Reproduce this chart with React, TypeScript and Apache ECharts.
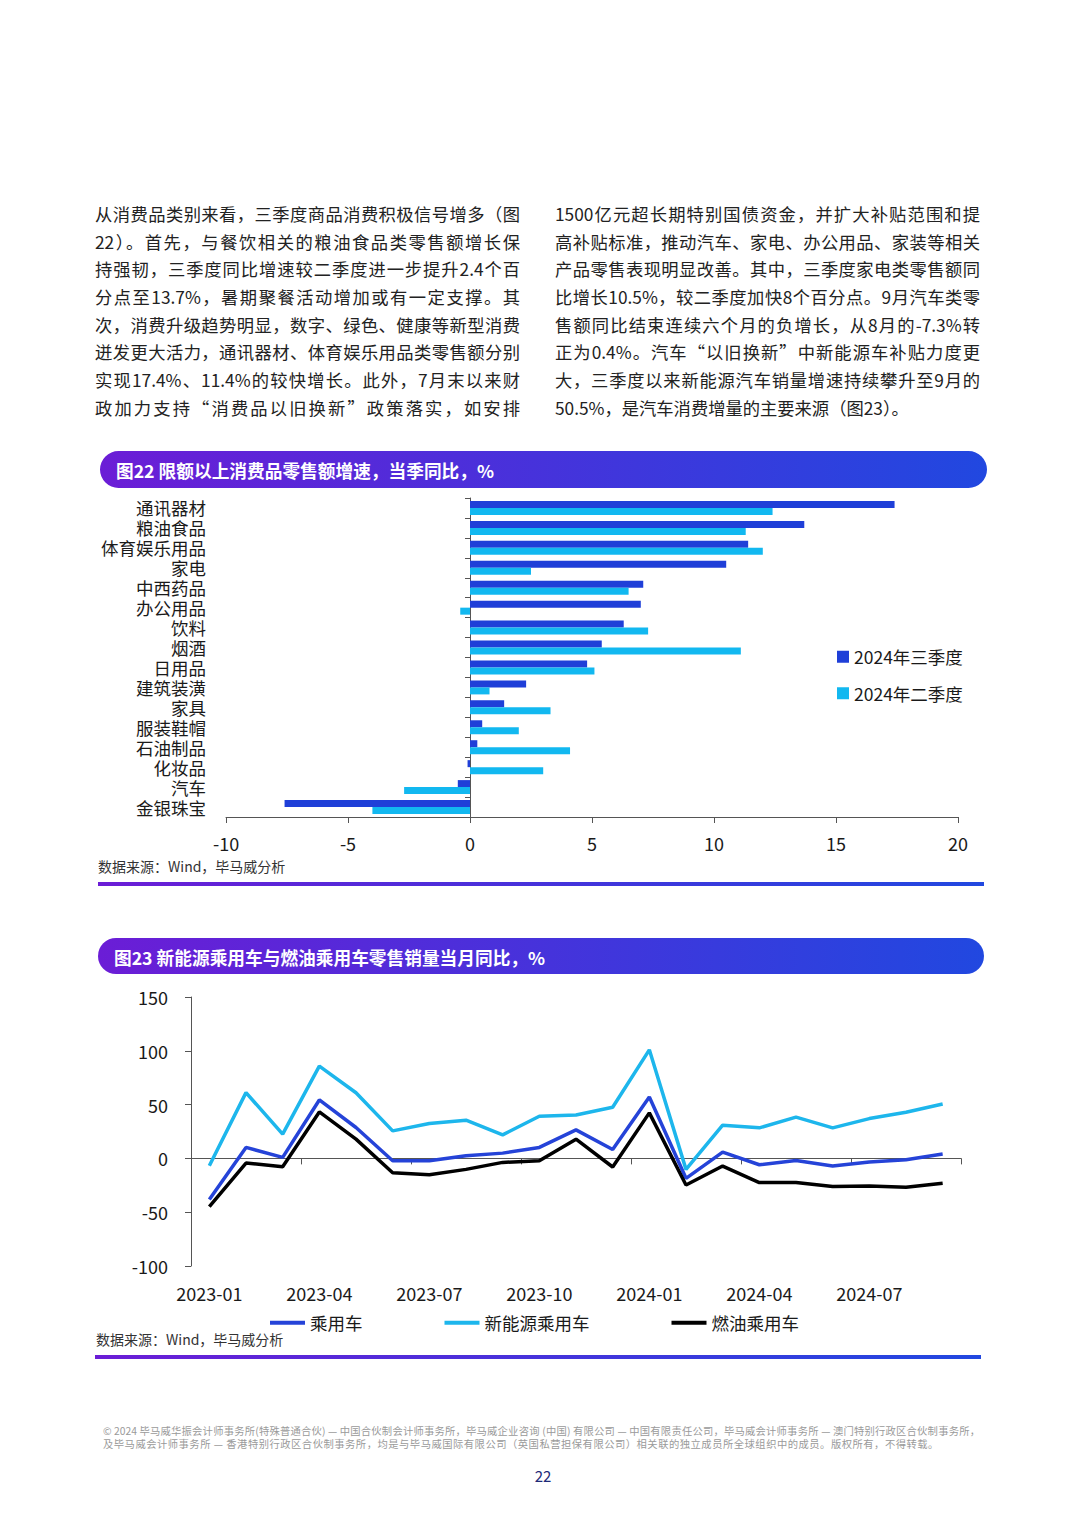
import React, { useEffect, useRef } from "react";
import * as echarts from "echarts";

const FONT = '"Noto Sans CJK SC", "Noto Sans", sans-serif';
const TEXT = "#1a1a1a";
const AXIS = "#555555";

// ---------- Figure 22 data ----------
const barCategories = [
  "通讯器材", "粮油食品", "体育娱乐用品", "家电", "中西药品", "办公用品", "饮料", "烟酒",
  "日用品", "建筑装潢", "家具", "服装鞋帽", "石油制品", "化妆品", "汽车", "金银珠宝",
];
const q3Values = [17.4, 13.7, 11.4, 10.5, 7.1, 7.0, 6.3, 5.4, 4.8, 2.3, 1.4, 0.5, 0.3, -0.1, -0.5, -7.6];
const q2Values = [12.4, 11.3, 12.0, 2.5, 6.5, -0.4, 7.3, 11.1, 5.1, 0.8, 3.3, 2.0, 4.1, 3.0, -2.7, -4.0];
const barSeriesNames = ["2024年三季度", "2024年二季度"];
const barAxisMin = -10;
const barAxisMax = 20;
const barAxisStep = 5;

// ---------- Figure 23 data ----------
const months = [
  "2023-01", "2023-02", "2023-03", "2023-04", "2023-05", "2023-06", "2023-07", "2023-08",
  "2023-09", "2023-10", "2023-11", "2023-12", "2024-01", "2024-02", "2024-03", "2024-04",
  "2024-05", "2024-06", "2024-07", "2024-08", "2024-09",
];
const totalPV = [-38.3, 10.2, 0.9, 54.3, 28.7, -2.2, -2.2, 2.5, 4.9, 10.2, 26.5, 8.3, 57.1, -18.5, 5.9, -5.9, -1.9, -7.1, -3.4, -1.2, 4.0];
const nevPV = [-6.8, 61.1, 22.5, 85.8, 61.0, 25.6, 32.4, 35.5, 21.9, 39.2, 40.4, 47.5, 100.9, -10.2, 30.9, 28.4, 38.3, 28.4, 37.0, 42.9, 50.5];
const icePV = [-44.8, -4.3, -7.7, 43.2, 17.9, -13.3, -15.1, -10.2, -3.7, -2.2, 17.9, -8.0, 42.3, -24.7, -7.1, -22.5, -22.5, -26.2, -25.6, -26.9, -23.1];
const lineSeriesNames = ["乘用车", "新能源乘用车", "燃油乘用车"];
const lineAxisMin = -100;
const lineAxisMax = 150;
const lineAxisStep = 50;

// ---------- Texts ----------
const leftLines = [
  "从消费品类别来看，三季度商品消费积极信号增多（图",
  "22）。首先，与餐饮相关的粮油食品类零售额增长保",
  "持强韧，三季度同比增速较二季度进一步提升2.4个百",
  "分点至13.7%，暑期聚餐活动增加或有一定支撑。其",
  "次，消费升级趋势明显，数字、绿色、健康等新型消费",
  "迸发更大活力，通讯器材、体育娱乐用品类零售额分别",
  "实现17.4%、11.4%的较快增长。此外，7月末以来财",
  "政加力支持“消费品以旧换新”政策落实，如安排",
];
const rightLines = [
  "1500亿元超长期特别国债资金，并扩大补贴范围和提",
  "高补贴标准，推动汽车、家电、办公用品、家装等相关",
  "产品零售表现明显改善。其中，三季度家电类零售额同",
  "比增长10.5%，较二季度加快8个百分点。9月汽车类零",
  "售额同比结束连续六个月的负增长，从8月的-7.3%转",
  "正为0.4%。汽车“以旧换新”中新能源车补贴力度更",
  "大，三季度以来新能源汽车销量增速持续攀升至9月的",
  "50.5%，是汽车消费增量的主要来源（图23）。",
];
const footerLines = [
  "© 2024 毕马威华振会计师事务所(特殊普通合伙) — 中国合伙制会计师事务所，毕马威企业咨询 (中国) 有限公司 — 中国有限责任公司，毕马威会计师事务所 — 澳门特别行政区合伙制事务所，",
  "及毕马威会计师事务所 — 香港特别行政区合伙制事务所，均是与毕马威国际有限公司（英国私营担保有限公司）相关联的独立成员所全球组织中的成员。版权所有，不得转载。",
];
const title22 = "图22 限额以上消费品零售额增速，当季同比，%";
const title23 = "图23 新能源乘用车与燃油乘用车零售销量当月同比，%";
const sourceText = "数据来源：Wind，毕马威分析";

function gradient() {
  return new echarts.graphic.LinearGradient(0, 0, 1, 0, [
    { offset: 0, color: "#6B1DD6" },
    { offset: 1, color: "#2148E0" },
  ]);
}

export default function App() {
  const ref = useRef<HTMLDivElement>(null);

  useEffect(() => {
    if (!ref.current) return;
    const chart = echarts.init(ref.current, undefined, { renderer: "svg" });
    const axisLineStyle = { color: AXIS, width: 1 };
    const option: any = {
      animation: false,
      textStyle: { fontFamily: FONT },
      grid: [
        { left: 226, top: 498, width: 732, height: 319 },
        { left: 191, top: 997, width: 770, height: 269 },
      ],
      xAxis: [
        {
          gridIndex: 0, type: "value", min: barAxisMin, max: barAxisMax, interval: barAxisStep,
          position: "bottom",
          axisLine: { show: true, onZero: false, lineStyle: axisLineStyle },
          axisTick: { show: true, length: 6, lineStyle: axisLineStyle },
          axisLabel: { color: TEXT, fontSize: 18, margin: 17, fontFamily: FONT },
          splitLine: { show: false },
        },
        {
          gridIndex: 1, type: "category", data: months, position: "bottom", boundaryGap: true,
          axisLine: { show: false, onZero: false },
          axisTick: { show: false },
          axisLabel: { interval: 2, color: TEXT, fontSize: 18, margin: 18, fontFamily: FONT },
          splitLine: { show: false },
        },
        {
          gridIndex: 1, type: "category", data: months, position: "bottom", boundaryGap: true,
          axisLine: { show: true, onZero: true, lineStyle: axisLineStyle },
          axisTick: { show: true, interval: 2, length: 6, lineStyle: axisLineStyle },
          axisLabel: { show: false },
          splitLine: { show: false },
        },
      ],
      yAxis: [
        {
          gridIndex: 0, type: "category", data: barCategories, inverse: true, position: "left",
          axisLine: { show: false, onZero: false },
          axisTick: { show: false },
          axisLabel: {
            interval: 0, color: TEXT, fontSize: 17.5, lineHeight: 18, margin: 20, fontFamily: FONT,
            padding: [3, 0, 0, 0],
          },
          splitLine: { show: false },
        },
        {
          gridIndex: 0, type: "category", data: barCategories, inverse: true, position: "left",
          axisLine: { show: true, onZero: true, lineStyle: axisLineStyle },
          axisTick: { show: true, interval: 0, length: 5, lineStyle: axisLineStyle },
          axisLabel: { show: false },
          splitLine: { show: false },
        },
        {
          gridIndex: 1, type: "value", min: lineAxisMin, max: lineAxisMax, interval: lineAxisStep,
          position: "left",
          axisLine: { show: true, onZero: false, lineStyle: axisLineStyle },
          axisTick: { show: true, length: 6, lineStyle: axisLineStyle },
          axisLabel: { color: TEXT, fontSize: 18, margin: 23, fontFamily: FONT },
          splitLine: { show: false },
        },
      ],
      legend: [
        {
          data: barSeriesNames, orient: "vertical", left: 837, top: 648, padding: 0, icon: "rect",
          itemWidth: 12, itemHeight: 12, itemGap: 19,
          textStyle: { color: TEXT, fontSize: 17.5, fontFamily: FONT },
        },
        {
          data: lineSeriesNames, orient: "horizontal", left: 270, top: 1314, padding: 0, icon: "rect",
          itemWidth: 35, itemHeight: 4, itemGap: 82,
          textStyle: { color: TEXT, fontSize: 17.5, fontFamily: FONT },
        },
      ],
      series: [
        {
          name: barSeriesNames[0], type: "bar", xAxisIndex: 0, yAxisIndex: 0, data: q3Values,
          barWidth: 7, barGap: "0%", itemStyle: { color: "#1F3FD8" },
        },
        {
          name: barSeriesNames[1], type: "bar", xAxisIndex: 0, yAxisIndex: 0, data: q2Values,
          barWidth: 7, barGap: "0%", itemStyle: { color: "#12B8F0" },
        },
        {
          name: lineSeriesNames[0], type: "line", xAxisIndex: 1, yAxisIndex: 2, data: totalPV,
          symbol: "none", lineStyle: { width: 3.5, color: "#2543D8" }, itemStyle: { color: "#2543D8" },
        },
        {
          name: lineSeriesNames[1], type: "line", xAxisIndex: 1, yAxisIndex: 2, data: nevPV,
          symbol: "none", lineStyle: { width: 3.5, color: "#1DB6EC" }, itemStyle: { color: "#1DB6EC" },
        },
        {
          name: lineSeriesNames[2], type: "line", xAxisIndex: 1, yAxisIndex: 2, data: icePV,
          symbol: "none", lineStyle: { width: 3.5, color: "#000000" }, itemStyle: { color: "#000000" },
        },
      ],
      graphic: [
        { type: "rect", shape: { x: 100, y: 451, width: 887, height: 37, r: 18.5 }, style: { fill: gradient() } },
        {
          type: "text", x: 116, y: 470,
          style: { text: title22, fill: "#ffffff", fontSize: 17.7, fontWeight: "bold", fontFamily: FONT, verticalAlign: "middle" },
        },
        {
          type: "text", x: 98, y: 866,
          style: { text: sourceText, fill: "#333333", fontSize: 14, fontFamily: FONT, verticalAlign: "middle" },
        },
        { type: "rect", shape: { x: 98, y: 882, width: 886, height: 4 }, style: { fill: gradient() } },
        { type: "rect", shape: { x: 98, y: 938, width: 886, height: 36, r: 18 }, style: { fill: gradient() } },
        {
          type: "text", x: 114, y: 957,
          style: { text: title23, fill: "#ffffff", fontSize: 17.7, fontWeight: "bold", fontFamily: FONT, verticalAlign: "middle" },
        },
        {
          type: "text", x: 96, y: 1339,
          style: { text: sourceText, fill: "#333333", fontSize: 14, fontFamily: FONT, verticalAlign: "middle" },
        },
        { type: "rect", shape: { x: 95, y: 1355, width: 886, height: 4 }, style: { fill: gradient() } },
        {
          type: "text", x: 543, y: 1475,
          style: { text: "22", fill: "#1E2A78", fontSize: 15, fontFamily: FONT, align: "center", verticalAlign: "middle" },
        },
      ],
    };
    chart.setOption(option);
    return () => chart.dispose();
  }, []);

  const lineStyle = (justify: boolean): React.CSSProperties => ({
    height: 27.7,
    lineHeight: "27.7px",
    textAlign: justify ? "justify" : "left",
    textAlignLast: justify ? "justify" : "left",
    whiteSpace: "nowrap",
  } as React.CSSProperties);

  const colStyle = (left: number): React.CSSProperties => ({
    position: "absolute",
    left,
    top: 200,
    width: 425,
    fontFamily: FONT,
    fontSize: 17.3,
    color: "#222222",
    zIndex: 2,
  });

  return (
    <div style={{ position: "absolute", left: 0, top: 0, width: 1080, height: 1515, background: "#ffffff", overflow: "hidden" }}>
      <div ref={ref} style={{ position: "absolute", left: 0, top: 0, width: 1080, height: 1515 }} />
      <div style={colStyle(95)}>
        {leftLines.map((t, i) => (
          <div key={i} style={lineStyle(true)}>{t}</div>
        ))}
      </div>
      <div style={colStyle(555)}>
        {rightLines.map((t, i) => (
          <div key={i} style={lineStyle(i < rightLines.length - 1)}>{t}</div>
        ))}
      </div>
      <div
        style={{
          position: "absolute", left: 103, top: 1425, width: 877, fontFamily: FONT,
          fontSize: 10.3, color: "#9a9a9a", lineHeight: "12.5px", zIndex: 2,
        }}
      >
        <div style={{ textAlign: "justify", textAlignLast: "justify", whiteSpace: "nowrap" } as React.CSSProperties}>{footerLines[0]}</div>
        <div style={{ whiteSpace: "nowrap", letterSpacing: "0.5px" }}>{footerLines[1]}</div>
      </div>
    </div>
  );
}
